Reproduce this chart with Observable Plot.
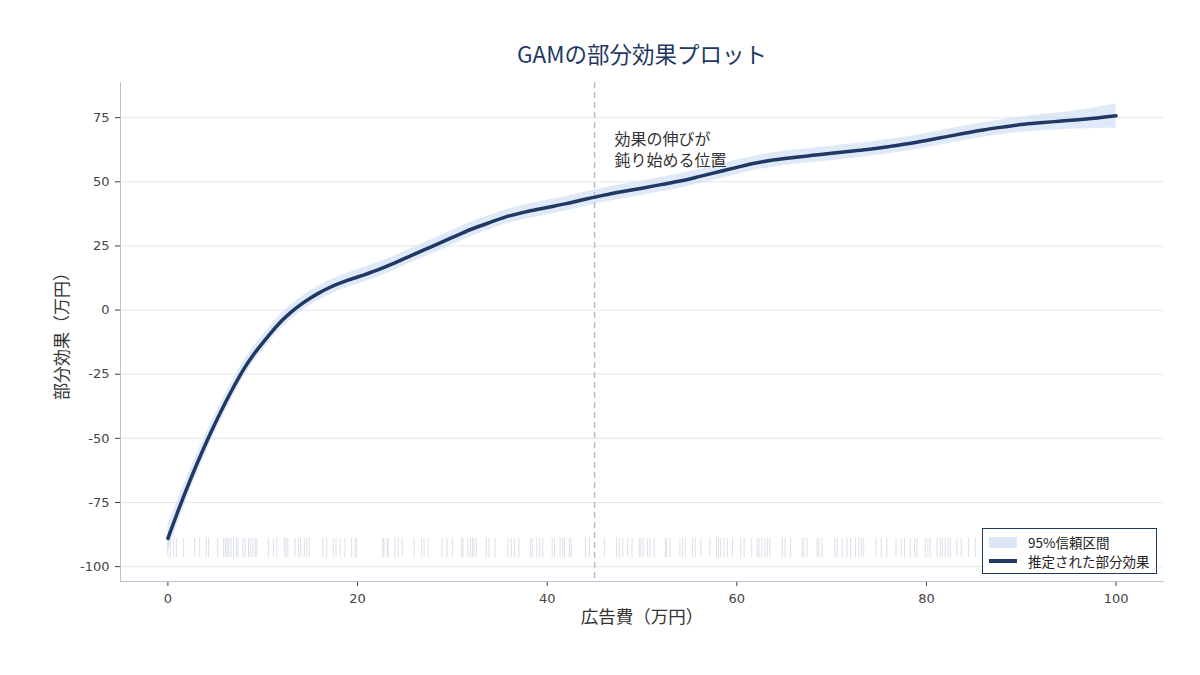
<!DOCTYPE html>
<html><head><meta charset="utf-8">
<script src="https://cdn.jsdelivr.net/npm/d3@7"></script>
<script src="https://cdn.jsdelivr.net/npm/@observablehq/plot@0.6"></script>
<style>
body{margin:0;background:#fff;font-family:"Noto Sans CJK JP","DejaVu Sans",sans-serif;}
#wrap{position:relative;width:1200px;height:675px;}
#legend{position:absolute;left:982px;top:528px;width:173px;height:44px;border:1px solid #1f3864;background:#fff;font-size:13.5px;color:#222;}
#legend .row{position:absolute;left:6px;display:flex;align-items:center;}
</style></head>
<body><div id="wrap"></div>
<script>
const title = "GAMの部分効果プロット";
const xLabel = "広告費（万円）";
const yLabel = "部分効果（万円）";
const annotationLines = ["効果の伸びが", "鈍り始める位置"];
const vlineX = 45;
const xTicks = [0, 20, 40, 60, 80, 100];
const yTicks = [-100, -75, -50, -25, 0, 25, 50, 75];

const curveX = [0,1,2,3,4,5,6,7,8,9,10,11,12,13,14,15,16,17,18,19,20,22,24,26,28,30,32,34,36,38,40,42,44,46,48,50,52,54,56,58,60,62,64,66,68,70,72,74,76,78,80,82,84,86,88,90,92,94,96,98,100];
const curveY = [-89,-79,-69.5,-60.5,-52,-44,-36.5,-29.5,-23,-17.5,-12.8,-8.3,-4.2,-0.8,2.1,4.6,6.8,8.7,10.3,11.7,12.9,15.5,18.5,21.8,25,28.3,31.5,34.2,36.7,38.5,40,41.5,43.2,44.8,46.2,47.5,48.9,50.3,52,53.8,55.6,57.3,58.6,59.5,60.3,61.1,61.9,62.7,63.7,64.8,66.1,67.5,68.9,70.2,71.3,72.3,73,73.6,74.2,74.9,75.7];
const ciHalf = [5,4.6,4.2,3.9,3.7,3.5,3.3,3.2,3.1,3,3,2.9,2.9,2.9,2.8,2.8,2.8,2.8,2.8,2.8,2.8,2.8,2.8,2.8,2.8,2.8,2.8,2.8,2.8,2.8,2.8,2.8,2.8,2.8,2.8,2.8,2.8,2.8,2.8,2.8,2.8,2.8,2.8,2.8,2.8,2.8,2.8,2.8,2.8,2.8,2.8,2.8,2.8,2.8,2.9,3,3.1,3.3,3.6,4.1,4.7];

const rugX = [0,0.26,0.61,0.89,1.66,2.82,3.35,4.05,4.29,5.24,5.87,6.05,6.23,6.40,6.65,6.92,7.21,7.39,7.91,8.15,8.50,8.68,8.96,9.21,9.38,10.6,11.13,11.49,12.29,12.47,12.65,13.41,13.76,14.01,14.39,14.65,14.92,16.33,16.75,17.44,17.73,18.15,18.67,19.38,19.73,19.91,
22.64,22.78,23.13,23.23,23.94,24.29,24.71,25.97,26.75,27.02,27.44,28.91,29.44,30.0,30.95,31.12,31.65,31.90,32.11,32.28,32.53,33.58,33.86,34.49,35.86,36.22,36.56,37.02,38.22,38.43,38.91,39.20,39.55,40.53,40.77,41.37,41.64,41.82,42.35,42.53,
44.03,44.45,46.03,47.32,47.61,47.96,48.48,48.95,49.71,49.89,50.13,50.59,50.84,51.30,52.45,52.59,52.95,54.0,54.28,54.56,55.33,55.61,56.21,57.16,57.85,58.06,58.31,58.66,59.01,59.54,60.42,60.77,61.57,62.16,62.34,62.63,62.97,63.22,63.47,64.80,65.08,
65.67,66.89,67.07,67.42,68.47,68.65,69.0,70.33,70.58,71.10,71.63,71.99,72.51,72.86,73.14,73.38,74.68,75.24,75.83,76.78,77.35,77.69,78.29,78.75,78.99,79.88,80.15,80.40,81.10,81.46,81.70,81.98,82.26,82.51,83.20,83.67,84.44,85.14];

const curve = curveX.map((x, i) => ({x, y: curveY[i], lo: curveY[i] - ciHalf[i], hi: curveY[i] + ciHalf[i]}));
const navy = "#1f3864";
const cjk = '"Noto Sans CJK JP","DejaVu Sans",sans-serif';

const chart = Plot.plot({
  width: 1200, height: 675,
  marginLeft: 120, marginRight: 37, marginTop: 82, marginBottom: 94,
  style: {fontFamily: cjk, fontSize: "13px", color: "#333", background: "#fff"},
  x: {domain: [-5, 105], label: null},
  y: {domain: [-105.8, 88.7], label: null},
  marks: [
    Plot.ruleY(yTicks, {stroke: "#e4e7ee", strokeWidth: 1}),
    Plot.areaY(curve, {x: "x", y1: "lo", y2: "hi", fill: "#c9daf2", fillOpacity: 0.6, curve: "catmull-rom"}),
    Plot.ruleX(rugX, {x: d => d, y1: -89, y2: -96.5, stroke: "#9aa6bf", strokeOpacity: 0.35, strokeWidth: 1}),
    Plot.ruleX([vlineX], {stroke: "#b3bdcc", strokeWidth: 1.5, strokeDasharray: "6,4"}),
    Plot.lineY(curve, {x: "x", y: "y", stroke: navy, strokeWidth: 3.5, curve: "catmull-rom"}),
    Plot.text([annotationLines[0]], {x: 47.1, y: 66.5, text: d => d, textAnchor: "start", fontSize: 16, fill: "#333"}),
    Plot.text([annotationLines[1]], {x: 47.1, y: 58.0, text: d => d, textAnchor: "start", fontSize: 16, fill: "#333"}),
    Plot.axisX({ticks: xTicks, tickFormat: d => String(d), tickSize: 5, tickPadding: 7, stroke: "#444", fill: "#444", fontSize: 13, fontFamily: "DejaVu Sans", label: null}),
    Plot.axisY({ticks: yTicks, tickFormat: d => String(d), tickSize: 5, tickPadding: 6, stroke: "#444", fill: "#444", fontSize: 13, fontFamily: "DejaVu Sans", label: null}),
    Plot.frame({anchor: "left", stroke: "#b8c4d4"}),
    Plot.frame({anchor: "bottom", stroke: "#b8c4d4"}),
    Plot.text([title], {frameAnchor: "top", dy: -35, fontSize: 22.5, fill: navy}),
    Plot.text([xLabel], {frameAnchor: "bottom", dy: 41, fontSize: 17.5, fill: "#333"}),
    Plot.text([yLabel], {frameAnchor: "left", textAnchor: "middle", dx: -58, rotate: -90, fontSize: 17, fill: "#333"})
  ]
});
const wrap = document.getElementById("wrap");
wrap.appendChild(chart);
const lg = document.createElement("div");
lg.id = "legend";
lg.innerHTML = `<div class="row" style="top:3px"><span style="display:inline-block;width:28px;height:11px;background:#dce7f6;margin-right:11px"></span><span>95%信頼区間</span></div>
<div class="row" style="top:22px"><span style="display:inline-block;width:28px;height:3.5px;background:${navy};margin-right:11px"></span><span>推定された部分効果</span></div>`;
wrap.appendChild(lg);
</script></body></html>
